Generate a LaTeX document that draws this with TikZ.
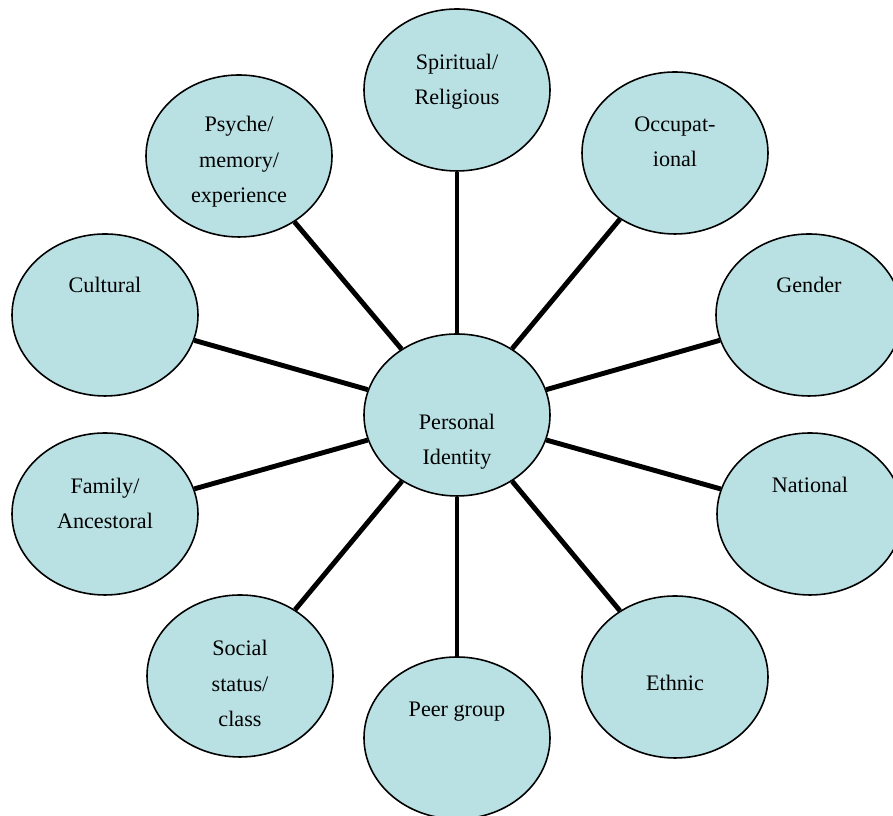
\documentclass[tikz,border=0pt]{standalone}
\usepackage{fontspec}
\setmainfont{Liberation Serif}
\usetikzlibrary{shapes.geometric}
\definecolor{bubblefill}{RGB}{185,224,227}

\begin{document}
\begin{tikzpicture}[
	bubble/.style={ellipse, draw=black, line width=0.9pt, fill=bubblefill, minimum width=3.72cm, minimum height=3.24cm, inner sep=0pt},
	txt/.style={anchor=base, align=center, font=\fontsize{12.6}{20.2}\selectfont},
	spoke/.style={line width=2.8pt}
	]
	\useasboundingbox (0,0) rectangle (17.86,16.32);
	
	%bubbles
	\node[bubble] (pi)   at (9.14,8.02)  {};
	\node[bubble] (spi)  at (9.14,14.52) {};
	\node[bubble] (occ)  at (13.5,13.26) {};
	\node[bubble] (gen)  at (16.18,10.02){};
	\node[bubble] (nat)  at (16.2,6.04)  {};
	\node[bubble] (eth)  at (13.5,2.78)  {};
	\node[bubble] (peer) at (9.14,1.56)  {};
	\node[bubble] (soc)  at (4.8,2.8)    {};
	\node[bubble] (fam)  at (2.1,6.04)   {};
	\node[bubble] (cul)  at (2.1,10.02)  {};
	\node[bubble] (psy)  at (4.78,13.2)  {};
	
	%spokes
	\draw[spoke] (pi)--(spi);		%PI--Spiritual
	\draw[spoke] (pi)--(occ);		%PI--Occupational
	\draw[spoke] (pi)--(gen);		%PI--Gender
	\draw[spoke] (pi)--(nat);		%PI--National
	\draw[spoke] (pi)--(eth);		%PI--Ethnic
	\draw[spoke] (pi)--(peer);		%PI--Peer group
	\draw[spoke] (pi)--(soc);		%PI--Social status
	\draw[spoke] (pi)--(fam);		%PI--Family
	\draw[spoke] (pi)--(cul);		%PI--Cultural
	\draw[spoke] (pi)--(psy);		%PI--Psyche
	
	%texts (base = last line)
	\node[txt] (piText)   at (9.14,7.02)  {Personal\\Identity};
	\node[txt] (spiText)  at (9.14,14.22) {Spiritual/\\Religious};
	\node[txt] (occText)  at (13.5,12.98) {Occupat-\\ional};
	\node[txt] (genText)  at (16.18,10.46){Gender};
	\node[txt] (natText)  at (16.2,6.46)  {National};
	\node[txt] (ethText)  at (13.5,2.5)   {Ethnic};
	\node[txt] (peerText) at (9.14,1.98)  {Peer group};
	\node[txt] (socText)  at (4.8,1.78)   {Social\\status/\\class};
	\node[txt] (famText)  at (2.1,5.74)   {Family/\\Ancestoral};
	\node[txt] (culText)  at (2.1,10.46)  {Cultural};
	\node[txt] (psyText)  at (4.78,12.26) {Psyche/\\memory/\\experience};
	
	%\draw[help lines] (0,0) grid (18,16);
\end{tikzpicture}
\end{document}
